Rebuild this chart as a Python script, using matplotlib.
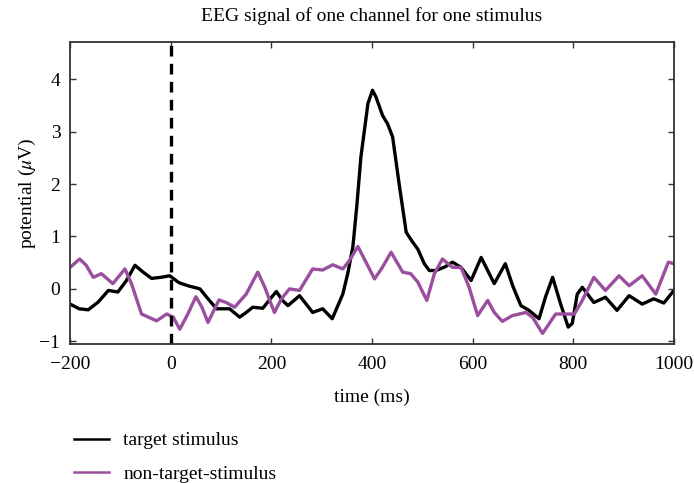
import matplotlib
matplotlib.use("Agg")
import matplotlib.pyplot as plt
from matplotlib.lines import Line2D

plt.rcParams['font.family'] = ['Liberation Serif', 'DejaVu Serif']
plt.rcParams['mathtext.fontset'] = 'stix'

# target stimulus (time ms, potential uV)
target_t = [-200, -182, -164, -144, -124, -105, -88, -71, -55, -38, -20, -2, 16, 34, 58, 75, 91, 117, 137, 150, 163, 183,
            197, 210, 222, 233, 256, 270, 282, 302, 321, 342, 352, 362, 370, 378, 392, 401, 408, 421, 431, 441,
            454, 468, 481, 491, 504, 514, 527, 545, 560, 577, 597, 617, 630, 643, 665, 680, 696, 712,
            732, 745, 759, 775, 790, 798, 808, 818, 841, 864, 887, 911, 937, 960, 980, 1000]
target_v = [-0.29, -0.38, -0.40, -0.25, -0.03, -0.06, 0.16, 0.45, 0.32, 0.20, 0.22, 0.25, 0.12, 0.06, 0.0, -0.2, -0.38, -0.38,
            -0.54, -0.45, -0.35, -0.37, -0.2, -0.05, -0.22, -0.32, -0.13, -0.3, -0.45, -0.38, -0.57, -0.10, 0.3, 0.80, 1.6,
            2.52, 3.54, 3.79, 3.66, 3.31, 3.15, 2.90, 2.00, 1.08, 0.89, 0.76, 0.48, 0.35,
            0.35, 0.42, 0.51, 0.41, 0.16, 0.60, 0.35, 0.10, 0.48, 0.05, -0.32, -0.41,
            -0.57, -0.15, 0.22, -0.29, -0.73, -0.66, -0.10, 0.03, -0.26, -0.16, -0.41, -0.13, -0.29, -0.19, -0.27, -0.03]

# non-target stimulus
nontarget_t = [-200, -181, -168, -154, -138, -115, -91, -78, -58, -28, -8, 5, 18, 34, 50, 62, 74,
               96, 110, 127, 150, 173, 187, 206, 220, 236, 256, 282, 302, 322, 342, 355,
               372, 388, 405, 420, 438, 461, 477, 491, 509, 524, 540, 560, 577, 593, 610, 630,
               643, 659, 679, 706, 719, 739, 765, 785, 802, 818, 841, 864, 891, 911, 937,
               964, 989, 1000]
nontarget_v = [0.41, 0.57, 0.45, 0.22, 0.29, 0.10, 0.38, 0.10, -0.48, -0.61, -0.48, -0.54, -0.77,
               -0.48, -0.15, -0.35, -0.64, -0.21, -0.26, -0.35, -0.10, 0.32, 0.03, -0.45, -0.19,
               0.0, -0.03, 0.38, 0.36, 0.46, 0.38, 0.54, 0.81, 0.51, 0.19, 0.4, 0.70, 0.32, 0.29,
               0.13, -0.22, 0.29, 0.57, 0.41, 0.41, 0.03, -0.51, -0.22, -0.45, -0.62, -0.51,
               -0.45, -0.54, -0.85, -0.48, -0.48, -0.48, -0.22, 0.22, -0.03, 0.25, 0.06,
               0.25, -0.10, 0.51, 0.48]

stim_onset = 0
xticks = [-200, 0, 200, 400, 600, 800, 1000]
yticks = [-1, 0, 1, 2, 3, 4]

purple = '#9a4f9e'
fs = 14

fig = plt.figure(figsize=(6.94, 4.83), dpi=100)
ax = fig.add_axes([0.101, 0.288, 0.870, 0.626])

ax.plot(target_t, target_v, color='black', lw=2.4, solid_joinstyle='round', solid_capstyle='round')
ax.plot(nontarget_t, nontarget_v, color=purple, lw=2.4, solid_joinstyle='round', solid_capstyle='round')
ax.axvline(stim_onset, color='black', lw=2.4, linestyle=(0, (3.2, 2.2)))

ax.set_xlim(-200, 1000)
ax.set_ylim(-1.05, 4.72)
ax.set_xticks(xticks)
ax.set_yticks(yticks)
ax.tick_params(direction='in', top=True, right=True, length=4, width=1,
               labelsize=fs, colors='#333333', labelcolor='black')
ax.tick_params(axis='x', pad=9)
ax.tick_params(axis='y', pad=7)
for s in ax.spines.values():
    s.set_linewidth(1.3)
    s.set_color('#333333')

ax.set_title('EEG signal of one channel for one stimulus', fontsize=fs, pad=15)
ax.set_xlabel('time (ms)', fontsize=fs, labelpad=11)
ax.set_ylabel(r'potential ($\mu$V)', fontsize=fs, labelpad=1)

handles = [Line2D([], [], color='black', lw=1.8), Line2D([], [], color=purple, lw=1.8)]
fig.legend(handles, ['target stimulus', 'non-target-stimulus'], loc='upper left',
           bbox_to_anchor=(0.095, 0.122), frameon=False, fontsize=fs,
           handlelength=1.8, handletextpad=0.75, labelspacing=0.8, borderaxespad=0)

fig.savefig('out.png', dpi=100)
